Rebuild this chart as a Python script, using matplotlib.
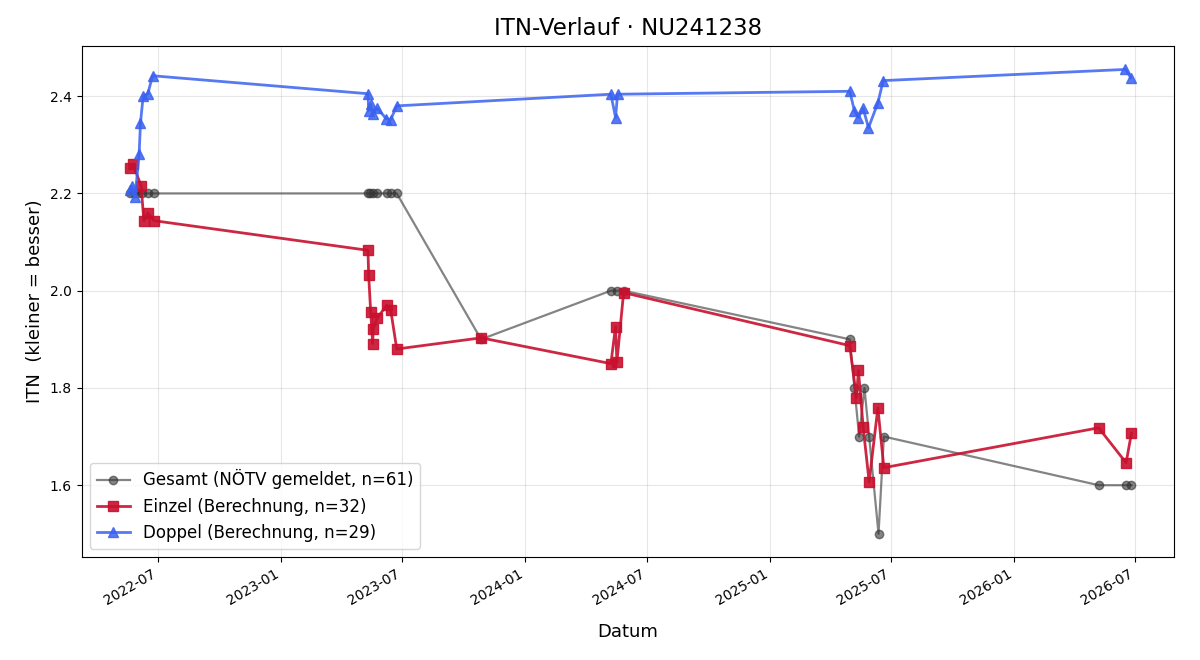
import pandas as pd
import matplotlib
matplotlib.use("Agg")
import matplotlib.pyplot as plt
import matplotlib.dates as mdates

# Gesamt (reported ITN)
gesamt_dates = [
    "2022-05-20", "2022-05-26", "2022-06-01", "2022-06-08", "2022-06-16", "2022-06-25",
    "2023-05-11", "2023-05-14", "2023-05-18", "2023-05-25", "2023-06-08", "2023-06-14", "2023-06-23",
    "2023-10-27",
    "2024-05-08", "2024-05-17", "2024-05-27",
    "2025-04-30", "2025-05-07", "2025-05-14", "2025-05-22", "2025-05-29", "2025-06-12", "2025-06-20",
    "2026-05-07", "2026-06-17", "2026-06-25",
]
gesamt_vals = [
    2.2, 2.2, 2.2, 2.2, 2.2, 2.2,
    2.2, 2.2, 2.2, 2.2, 2.2, 2.2, 2.2,
    1.9,
    2.0, 2.0, 2.0,
    1.9, 1.8, 1.7, 1.8, 1.7, 1.5, 1.7,
    1.6, 1.6, 1.6,
]

# Einzel (calculated)
einzel_dates = [
    "2022-05-21", "2022-05-25", "2022-06-06", "2022-06-10", "2022-06-16", "2022-06-25",
    "2023-05-11", "2023-05-12", "2023-05-15", "2023-05-18", "2023-05-19", "2023-05-25",
    "2023-06-08", "2023-06-14", "2023-06-23",
    "2023-10-27",
    "2024-05-08", "2024-05-15", "2024-05-17", "2024-05-27",
    "2025-04-30", "2025-05-10", "2025-05-13", "2025-05-20", "2025-05-29", "2025-06-11", "2025-06-20",
    "2026-05-07", "2026-06-17", "2026-06-25",
]
einzel_vals = [
    2.253, 2.260, 2.215, 2.144, 2.160, 2.144,
    2.083, 2.033, 1.957, 1.891, 1.922, 1.944,
    1.970, 1.960, 1.880,
    1.903,
    1.850, 1.926, 1.853, 1.996,
    1.887, 1.780, 1.836, 1.720, 1.607, 1.759, 1.636,
    1.718, 1.646, 1.707,
]

# Doppel (calculated)
doppel_dates = [
    "2022-05-21", "2022-05-23", "2022-05-28", "2022-06-03", "2022-06-05", "2022-06-09",
    "2022-06-16", "2022-06-23",
    "2023-05-11", "2023-05-12", "2023-05-15", "2023-05-18", "2023-05-25", "2023-06-07",
    "2023-06-14", "2023-06-23",
    "2024-05-08", "2024-05-15", "2024-05-18",
    "2025-04-30", "2025-05-07", "2025-05-13", "2025-05-20", "2025-05-28", "2025-06-11", "2025-06-19",
    "2026-06-16", "2026-06-24",
]
doppel_vals = [
    2.207, 2.215, 2.193, 2.282, 2.345, 2.400,
    2.405, 2.442,
    2.405, 2.370, 2.383, 2.364, 2.375, 2.354,
    2.352, 2.380,
    2.404, 2.356, 2.404,
    2.410, 2.370, 2.356, 2.375, 2.335, 2.386, 2.432,
    2.455, 2.438,
]

x_range = ["2022-03-09", "2026-08-27"]

fig, ax = plt.subplots(figsize=(12, 6.6), dpi=100)

ax.plot(pd.to_datetime(gesamt_dates), gesamt_vals, "-o", color="#333333", alpha=0.6,
        lw=1.6, ms=6, label="Gesamt (NÖTV gemeldet, n=61)")
ax.plot(pd.to_datetime(einzel_dates), einzel_vals, "-s", color="#c8102e", alpha=0.9,
        lw=2, ms=7, label="Einzel (Berechnung, n=32)")
ax.plot(pd.to_datetime(doppel_dates), doppel_vals, "-^", color="#3a62f0", alpha=0.85,
        lw=2, ms=7, label="Doppel (Berechnung, n=29)")

ax.set_xlim(pd.to_datetime(x_range))
ax.xaxis.set_major_locator(mdates.MonthLocator(bymonth=[1, 7]))
ax.xaxis.set_major_formatter(mdates.DateFormatter("%Y-%m"))
fig.autofmt_xdate()

ax.set_title("ITN-Verlauf · NU241238", fontsize=16.5, pad=8)
ax.set_xlabel("Datum", fontsize=13, labelpad=11)
ax.set_ylabel("ITN  (kleiner = besser)", fontsize=13)
ax.grid(True, alpha=0.3)
ax.legend(loc="lower left", fontsize=12)

fig.subplots_adjust(left=0.068, right=0.978, top=0.93, bottom=0.156)
fig.savefig("out.png")
